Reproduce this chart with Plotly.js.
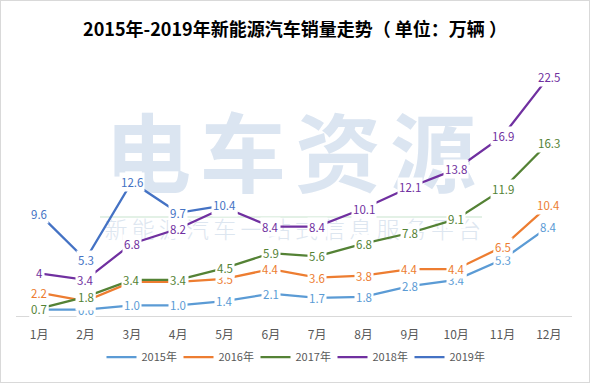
<!DOCTYPE html>
<html>
<head>
<meta charset="utf-8">
<script src="https://cdn.plot.ly/plotly-3.0.1.min.js"></script>
<style>
  html, body { margin: 0; padding: 0; background: #fff; }
  #wrap { position: relative; width: 590px; height: 383px; }
  #chart { width: 590px; height: 383px; }
  #frame { position: absolute; left: 0; top: 0; width: 590px; height: 383px; box-sizing: border-box; border: 1px solid #d9d9d9; pointer-events: none; }
</style>
</head>
<body>
<div id="wrap"><div id="chart"></div><div id="frame"></div></div>
<script>
const months = ['1月','2月','3月','4月','5月','6月','7月','8月','9月','10月','11月','12月'];
const years = ['2015年','2016年','2017年','2018年','2019年'];
const s2015 = [0.6, 0.6, 1.0, 1.0, 1.4, 2.1, 1.7, 1.8, 2.8, 3.4, 5.3, 8.4];
const s2016 = [2.2, 1.4, 3.2, 3.2, 3.5, 4.4, 3.6, 3.8, 4.4, 4.4, 6.5, 10.4];
const s2017 = [0.7, 1.8, 3.4, 3.4, 4.5, 5.9, 5.6, 6.8, 7.8, 9.1, 11.9, 16.3];
const s2018 = [4, 3.4, 6.8, 8.2, 10.2, 8.4, 8.4, 10.1, 12.1, 13.8, 16.9, 22.5];
const s2019 = [9.6, 5.3, 12.6, 9.7, 10.4];
const title = '2015年-2019年新能源汽车销量走势（ 单位：万辆 ）';
const watermarkBig = '电车资源';
const watermarkSmall = '新能源汽车一站式信息服务平台';

const series = [s2015, s2016, s2017, s2018, s2019];
const colors = ['#5B9BD5', '#ED7D31', '#548235', '#7030A0', '#4472C4'];
const formats = [v => v.toFixed(1), v => v.toFixed(1), v => v.toFixed(1), v => String(v), v => v.toFixed(1)];
const FONT = '"Noto Sans CJK SC", "Microsoft YaHei", sans-serif';

const W = 590, H = 383;
const M = { l: 16, r: 18, t: 50, b: 67 };
const pw = W - M.l - M.r, ph = H - M.t - M.b;
const px = x => (x - M.l) / pw;
const py = y => (H - M.b - y) / ph;

const traces = series.map((s, i) => ({
  type: 'scatter', mode: 'lines', name: years[i],
  x: months.slice(0, s.length), y: s,
  line: { color: colors[i], width: 2.25 },
  hoverinfo: 'skip'
}));

const annotations = [];
series.forEach((s, i) => {
  s.forEach((v, j) => {
    annotations.push({
      x: months[j], y: v, xref: 'x', yref: 'y', text: formats[i](v),
      showarrow: false, bgcolor: '#ffffff', borderpad: 1,
      font: { family: FONT, size: 11.5, color: colors[i] }
    });
  });
});

const shapes = [];
const bigCenters = [148, 243, 338, 433];
[...watermarkBig].forEach((ch, k) => {
  shapes.push({
    type: 'rect', xref: 'paper', yref: 'paper', layer: 'below',
    x0: px(bigCenters[k] - 48), x1: px(bigCenters[k] + 48), y0: py(205), y1: py(120),
    line: { width: 0 }, fillcolor: 'rgba(0,0,0,0)',
    label: { text: ch, textposition: 'middle center', font: { family: FONT, size: 86, color: '#dbe5f1', weight: 'bold' } }
  });
});
shapes.push({
  type: 'line', xref: 'paper', yref: 'paper', layer: 'below',
  x0: px(100), x1: px(482), y0: py(217), y1: py(217),
  line: { color: '#e3f1e6', width: 2 }
});
[...watermarkSmall].forEach((ch, k) => {
  const cx = 116 + k * 27.2;
  shapes.push({
    type: 'rect', xref: 'paper', yref: 'paper', layer: 'below',
    x0: px(cx - 14), x1: px(cx + 14), y0: py(246), y1: py(218),
    line: { width: 0 }, fillcolor: 'rgba(0,0,0,0)',
    label: { text: ch, textposition: 'middle center', font: { family: FONT, size: 23, color: '#dde6f0', weight: 300 } }
  });
});

const layout = {
  width: W, height: H,
  margin: M,
  paper_bgcolor: '#ffffff', plot_bgcolor: '#ffffff',
  font: { family: FONT, color: '#595959' },
  title: {
    text: '<b>' + title + '</b>',
    font: { family: FONT, size: 18, color: '#000000' },
    x: 0.5, xanchor: 'center', y: 1 - 30 / H, yanchor: 'middle', yref: 'container'
  },
  xaxis: {
    type: 'category', categoryarray: months, range: [-0.5, 11.5],
    showline: true, linecolor: '#d9d9d9', linewidth: 1,
    showgrid: false, zeroline: false, ticks: '',
    ticklabelstandoff: 8,
    tickfont: { family: FONT, size: 12, color: '#595959' },
    fixedrange: true
  },
  yaxis: {
    range: [0, 25], visible: false, showgrid: false, zeroline: false, fixedrange: true
  },
  showlegend: true,
  legend: {
    orientation: 'h', x: 0.5, xanchor: 'center', y: py(357), yanchor: 'middle',
    font: { family: FONT, size: 11, color: '#595959' },
    itemwidth: 30, entrywidth: 32, traceorder: 'normal'
  },
  shapes: shapes,
  annotations: annotations,
  hovermode: false
};

Plotly.newPlot('chart', traces, layout, { displayModeBar: false, staticPlot: true });
</script>
</body>
</html>
